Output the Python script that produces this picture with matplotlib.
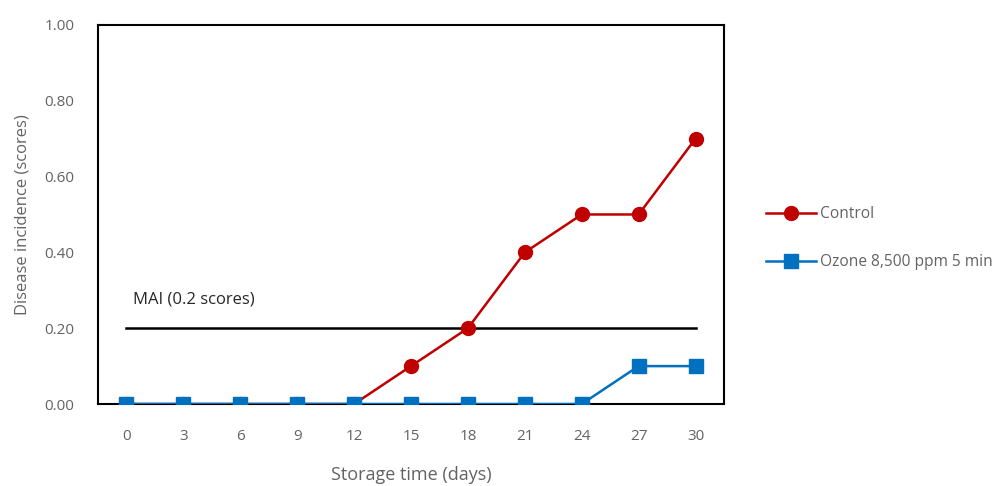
import matplotlib
matplotlib.use("Agg")
import matplotlib.pyplot as plt
from matplotlib.lines import Line2D

plt.rcParams['font.family'] = ['Open Sans', 'DejaVu Sans']

days = ["0", "3", "6", "9", "12", "15", "18", "21", "24", "27", "30"]
control = [0, 0, 0, 0, 0, 0.1, 0.2, 0.4, 0.5, 0.5, 0.7]
ozone = [0, 0, 0, 0, 0, 0, 0, 0, 0, 0.1, 0.1]
mai_level = 0.2
y_ticks = [0.0, 0.2, 0.4, 0.6, 0.8, 1.0]

grey = "#636363"
red = "#C00000"
blue = "#0070C0"

fig = plt.figure(figsize=(10, 4.86), dpi=100)
ax = fig.add_axes([0.098, 0.1687, 0.626, 0.78])

x = list(range(len(days)))
ax.plot(x, control, color=red, lw=1.8, marker="o", ms=10, zorder=3, label="Control")
ax.plot(x, ozone, color=blue, lw=1.8, marker="s", ms=10, zorder=4, label="Ozone 8,500 ppm 5 min")
ax.plot([x[0], x[-1]], [mai_level, mai_level], color="black", lw=1.8, zorder=2)
ax.text(x[0] + 0.12, mai_level + 0.055, "MAI (0.2 scores)", fontsize=12, color="#262626", va="bottom")

ax.set_xlim(-0.5, len(days) - 0.5)
ax.set_ylim(0, 1.0)
ax.set_xticks(x)
ax.set_xticklabels(days)
ax.set_yticks(y_ticks)
ax.set_yticklabels([f"{v:.2f}" for v in y_ticks])
ax.tick_params(axis="both", length=0, colors=grey, labelsize=11)
ax.tick_params(axis="x", pad=18)
ax.tick_params(axis="y", pad=17)
for s in ax.spines.values():
    s.set_color("black")
    s.set_linewidth(1.5)

ax.set_xlabel("Storage time (days)", fontsize=13, color=grey, labelpad=16)
ax.set_ylabel("Disease incidence (scores)", fontsize=12, color=grey, labelpad=10)

handles = [
    Line2D([], [], color=red, lw=1.8, marker="o", ms=10),
    Line2D([], [], color=blue, lw=1.8, marker="s", ms=10),
]
fig.legend(handles, ["Control", "Ozone 8,500 ppm 5 min"], loc="center left",
           bbox_to_anchor=(0.752, 0.51), frameon=False, fontsize=11.2,
           labelcolor=grey, handlelength=3.2, handletextpad=0.3, labelspacing=2.05)

fig.savefig("out.png", dpi=100)
